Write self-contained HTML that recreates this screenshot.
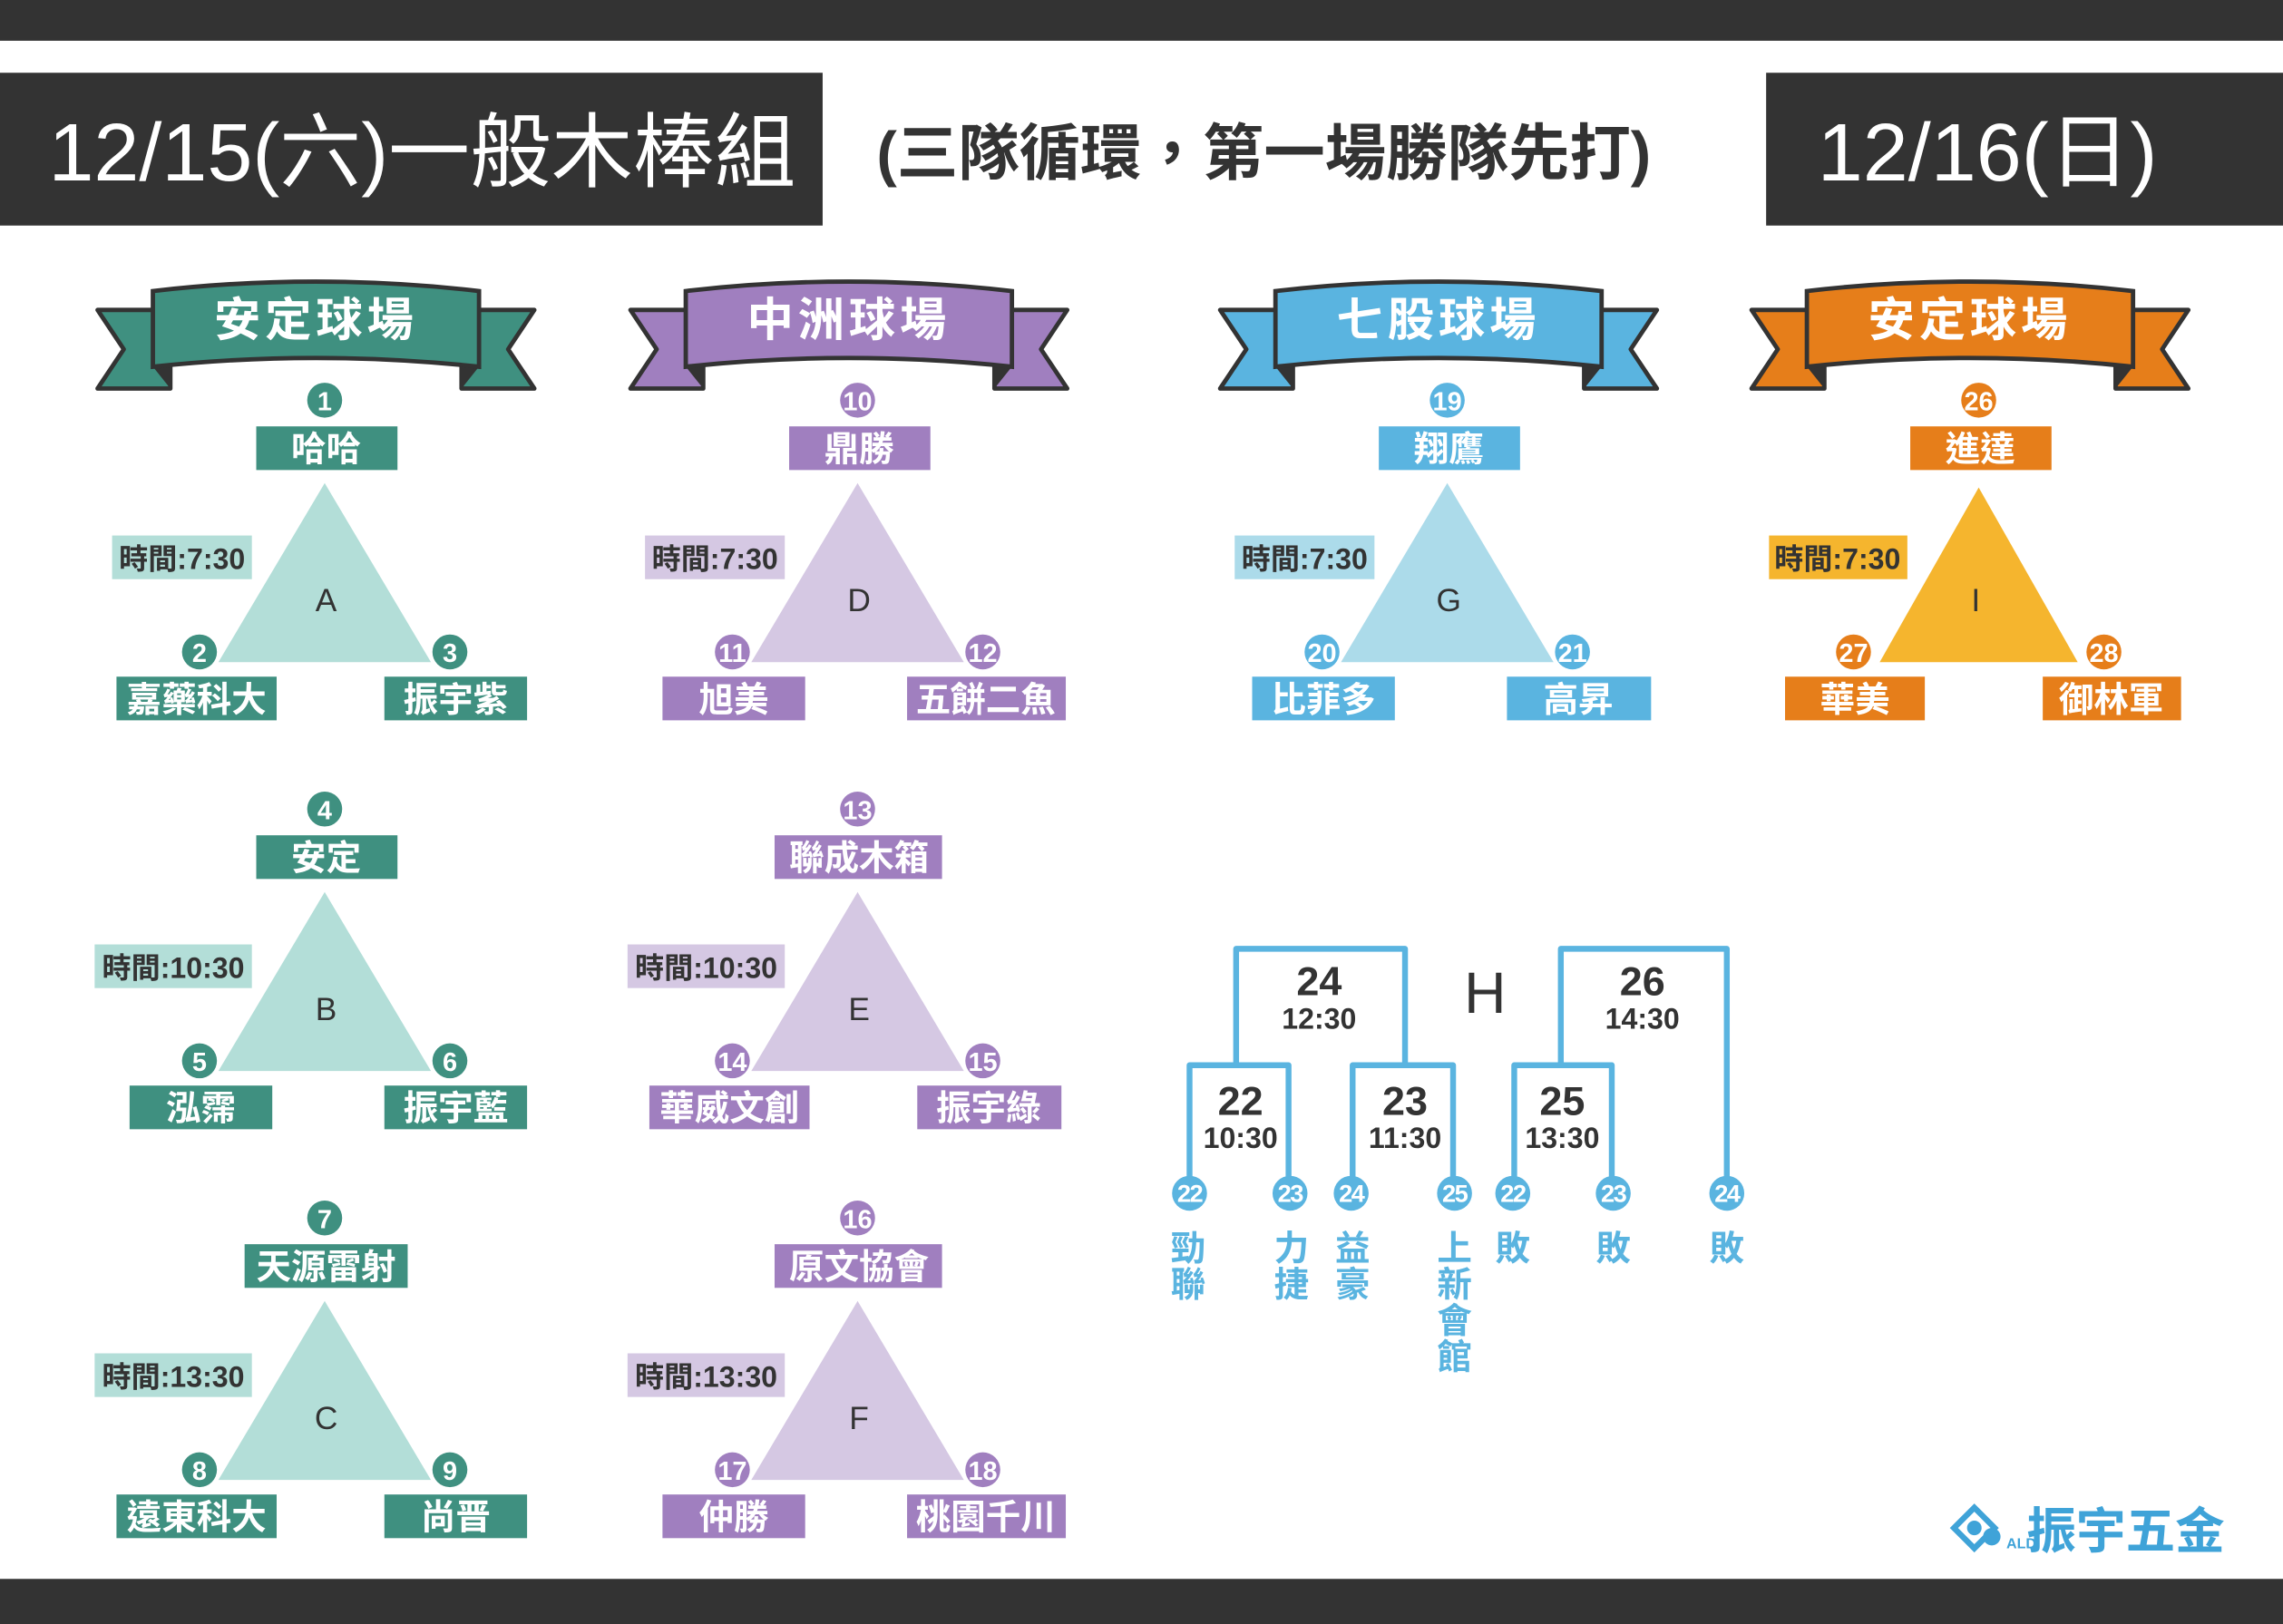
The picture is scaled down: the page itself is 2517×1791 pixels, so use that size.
<!DOCTYPE html>
<html><head><meta charset="utf-8"><style>
html,body{margin:0;padding:0;background:#fff}
svg{display:block}
text{font-family:"Liberation Sans","Noto Sans CJK TC","WenQuanYi Zen Hei",sans-serif}
.w{fill:#fff;font-weight:bold}
.d{fill:#333}
.t{fill:#333;font-weight:bold}
.n{fill:#fff;font-weight:normal}
</style></head><body>
<svg width="2517" height="1791" viewBox="0 0 1568 1116" preserveAspectRatio="none" xmlns="http://www.w3.org/2000/svg">
<defs>
<g id="rib">
 <polygon points="-150,18 -100,18 -100,72 -150,72 -132,45" stroke="#333" stroke-width="3" stroke-linejoin="round"/>
 <polygon points="150,18 100,18 100,72 150,72 132,45" stroke="#333" stroke-width="3" stroke-linejoin="round"/>
 <polygon points="-112,57 -100,72 -100,57" fill="#333"/>
 <polygon points="112,57 100,72 100,57" fill="#333"/>
 <path d="M-112,5 Q0,-8 112,5 L112,57 Q0,45 -112,57 Z" stroke="#333" stroke-width="3"/>
</g>
</defs>
<rect x="0" y="0" width="1568" height="28" fill="#333"/>
<rect x="0" y="1085" width="1568" height="31" fill="#333"/>
<rect x="0" y="50" width="565" height="105" fill="#333"/>
<text x="290" y="124" class="n" font-size="56" text-anchor="middle">12/15(六)一般木棒組</text>
<text x="868" y="120" class="d" font-size="42" text-anchor="middle" font-weight="bold">(三隊循環，第一場勝隊先打)</text>
<rect x="1213" y="50" width="355" height="105" fill="#333"/>
<text x="1365" y="124" class="n" font-size="56" text-anchor="middle">12/16(日)</text>

<g transform="translate(217,195)" fill="#3f9080"><use href="#rib"/><text x="0" y="36" class="w" font-size="32" text-anchor="middle" letter-spacing="3">安定球場</text></g>
<g transform="translate(583,195)" fill="#a07fbf"><use href="#rib"/><text x="0" y="36" class="w" font-size="32" text-anchor="middle" letter-spacing="3">中洲球場</text></g>
<g transform="translate(988,195)" fill="#5ab4e0"><use href="#rib"/><text x="0" y="36" class="w" font-size="32" text-anchor="middle" letter-spacing="3">七股球場</text></g>
<g transform="translate(1353,195)" fill="#e67e1a"><use href="#rib"/><text x="0" y="36" class="w" font-size="32" text-anchor="middle" letter-spacing="3">安定球場</text></g>

<g transform="translate(223,275)">
<polygon points="0,57 -73,180 73,180" fill="#b3ded8"/>
<text x="1" y="145" class="d" font-size="22" text-anchor="middle">A</text>
<rect x="-146" y="93" width="96" height="30" fill="#b3ded8"/><text x="-98" y="116" class="t" font-size="20" text-anchor="middle">時間:7:30</text>
<g fill="#3f9080">
<circle cx="0" cy="0" r="12"/><circle cx="-86" cy="173" r="12"/><circle cx="86" cy="173" r="12"/>
<rect x="-47" y="18" width="97" height="30"/><rect x="-143" y="190" width="110" height="30"/><rect x="41" y="190" width="98" height="30"/></g>
<text x="0" y="7" class="w" font-size="18" text-anchor="middle">1</text><text x="-86" y="180" class="w" font-size="18" text-anchor="middle">2</text><text x="86" y="180" class="w" font-size="18" text-anchor="middle">3</text>
<text x="1" y="42" class="w" font-size="24" text-anchor="middle">哈哈</text>
<text x="-88" y="214" class="w" font-size="24" text-anchor="middle">嘉藥科大</text>
<text x="90" y="214" class="w" font-size="24" text-anchor="middle">振宇紫</text>
</g>
<g transform="translate(223,556)">
<polygon points="0,57 -73,180 73,180" fill="#b3ded8"/>
<text x="1" y="145" class="d" font-size="22" text-anchor="middle">B</text>
<rect x="-158" y="93" width="108" height="30" fill="#b3ded8"/><text x="-104" y="116" class="t" font-size="20" text-anchor="middle">時間:10:30</text>
<g fill="#3f9080">
<circle cx="0" cy="0" r="12"/><circle cx="-86" cy="173" r="12"/><circle cx="86" cy="173" r="12"/>
<rect x="-47" y="18" width="97" height="30"/><rect x="-134" y="190" width="98" height="30"/><rect x="41" y="190" width="98" height="30"/></g>
<text x="0" y="7" class="w" font-size="18" text-anchor="middle">4</text><text x="-86" y="180" class="w" font-size="18" text-anchor="middle">5</text><text x="86" y="180" class="w" font-size="18" text-anchor="middle">6</text>
<text x="1" y="42" class="w" font-size="24" text-anchor="middle">安定</text>
<text x="-85" y="214" class="w" font-size="24" text-anchor="middle">泓霈</text>
<text x="90" y="214" class="w" font-size="24" text-anchor="middle">振宇藍</text>
</g>
<g transform="translate(223,837)">
<polygon points="0,57 -73,180 73,180" fill="#b3ded8"/>
<text x="1" y="145" class="d" font-size="22" text-anchor="middle">C</text>
<rect x="-158" y="93" width="108" height="30" fill="#b3ded8"/><text x="-104" y="116" class="t" font-size="20" text-anchor="middle">時間:13:30</text>
<g fill="#3f9080">
<circle cx="0" cy="0" r="12"/><circle cx="-86" cy="173" r="12"/><circle cx="86" cy="173" r="12"/>
<rect x="-55" y="18" width="112" height="30"/><rect x="-143" y="190" width="110" height="30"/><rect x="41" y="190" width="98" height="30"/></g>
<text x="0" y="7" class="w" font-size="18" text-anchor="middle">7</text><text x="-86" y="180" class="w" font-size="18" text-anchor="middle">8</text><text x="86" y="180" class="w" font-size="18" text-anchor="middle">9</text>
<text x="1" y="42" class="w" font-size="24" text-anchor="middle">天源雷射</text>
<text x="-88" y="214" class="w" font-size="24" text-anchor="middle">遠東科大</text>
<text x="90" y="214" class="w" font-size="24" text-anchor="middle">尚晋</text>
</g>
<g transform="translate(589,275)">
<polygon points="0,57 -73,180 73,180" fill="#d5c8e3"/>
<text x="1" y="145" class="d" font-size="22" text-anchor="middle">D</text>
<rect x="-146" y="93" width="96" height="30" fill="#d5c8e3"/><text x="-98" y="116" class="t" font-size="20" text-anchor="middle">時間:7:30</text>
<g fill="#a07fbf">
<circle cx="0" cy="0" r="12"/><circle cx="-86" cy="173" r="12"/><circle cx="86" cy="173" r="12"/>
<rect x="-47" y="18" width="97" height="30"/><rect x="-134" y="190" width="98" height="30"/><rect x="34" y="190" width="109" height="30"/></g>
<text x="0" y="7" class="w" font-size="18" text-anchor="middle">10</text><text x="-86" y="180" class="w" font-size="18" text-anchor="middle">11</text><text x="86" y="180" class="w" font-size="18" text-anchor="middle">12</text>
<text x="1" y="42" class="w" font-size="24" text-anchor="middle">鼎勝</text>
<text x="-85" y="214" class="w" font-size="24" text-anchor="middle">旭美</text>
<text x="88" y="214" class="w" font-size="24" text-anchor="middle">五餅二魚</text>
</g>
<g transform="translate(589,556)">
<polygon points="0,57 -73,180 73,180" fill="#d5c8e3"/>
<text x="1" y="145" class="d" font-size="22" text-anchor="middle">E</text>
<rect x="-158" y="93" width="108" height="30" fill="#d5c8e3"/><text x="-104" y="116" class="t" font-size="20" text-anchor="middle">時間:10:30</text>
<g fill="#a07fbf">
<circle cx="0" cy="0" r="12"/><circle cx="-86" cy="173" r="12"/><circle cx="86" cy="173" r="12"/>
<rect x="-57" y="18" width="115" height="30"/><rect x="-143" y="190" width="110" height="30"/><rect x="41" y="190" width="99" height="30"/></g>
<text x="0" y="7" class="w" font-size="18" text-anchor="middle">13</text><text x="-86" y="180" class="w" font-size="18" text-anchor="middle">14</text><text x="86" y="180" class="w" font-size="18" text-anchor="middle">15</text>
<text x="1" y="42" class="w" font-size="24" text-anchor="middle">聯成木箱</text>
<text x="-88" y="214" class="w" font-size="24" text-anchor="middle">華威文創</text>
<text x="90" y="214" class="w" font-size="24" text-anchor="middle">振宇綠</text>
</g>
<g transform="translate(589,837)">
<polygon points="0,57 -73,180 73,180" fill="#d5c8e3"/>
<text x="1" y="145" class="d" font-size="22" text-anchor="middle">F</text>
<rect x="-158" y="93" width="108" height="30" fill="#d5c8e3"/><text x="-104" y="116" class="t" font-size="20" text-anchor="middle">時間:13:30</text>
<g fill="#a07fbf">
<circle cx="0" cy="0" r="12"/><circle cx="-86" cy="173" r="12"/><circle cx="86" cy="173" r="12"/>
<rect x="-57" y="18" width="115" height="30"/><rect x="-134" y="190" width="98" height="30"/><rect x="34" y="190" width="109" height="30"/></g>
<text x="0" y="7" class="w" font-size="18" text-anchor="middle">16</text><text x="-86" y="180" class="w" font-size="18" text-anchor="middle">17</text><text x="86" y="180" class="w" font-size="18" text-anchor="middle">18</text>
<text x="1" y="42" class="w" font-size="24" text-anchor="middle">原文協會</text>
<text x="-85" y="214" class="w" font-size="24" text-anchor="middle">仲勝</text>
<text x="88" y="214" class="w" font-size="24" text-anchor="middle">桃園千川</text>
</g>
<g transform="translate(994,275)">
<polygon points="0,57 -73,180 73,180" fill="#acdbea"/>
<text x="1" y="145" class="d" font-size="22" text-anchor="middle">G</text>
<rect x="-146" y="93" width="96" height="30" fill="#acdbea"/><text x="-98" y="116" class="t" font-size="20" text-anchor="middle">時間:7:30</text>
<g fill="#5ab4e0">
<circle cx="0" cy="0" r="12"/><circle cx="-86" cy="173" r="12"/><circle cx="86" cy="173" r="12"/>
<rect x="-47" y="18" width="97" height="30"/><rect x="-134" y="190" width="98" height="30"/><rect x="41" y="190" width="99" height="30"/></g>
<text x="0" y="7" class="w" font-size="18" text-anchor="middle">19</text><text x="-86" y="180" class="w" font-size="18" text-anchor="middle">20</text><text x="86" y="180" class="w" font-size="18" text-anchor="middle">21</text>
<text x="1" y="42" class="w" font-size="24" text-anchor="middle">翔鷹</text>
<text x="-85" y="214" class="w" font-size="24" text-anchor="middle">比菲多</text>
<text x="90" y="214" class="w" font-size="24" text-anchor="middle">高昇</text>
</g>
<g transform="translate(1359,275)">
<polygon points="0,60 -68,180 68,180" fill="#f5b52e"/>
<text x="-2" y="145" class="d" font-size="22" text-anchor="middle">I</text>
<rect x="-144" y="93" width="95" height="30" fill="#f5b52e"/><text x="-97" y="116" class="t" font-size="20" text-anchor="middle">時間:7:30</text>
<g fill="#e67e1a">
<circle cx="0" cy="0" r="12"/><circle cx="-86" cy="173" r="12"/><circle cx="86" cy="173" r="12"/>
<rect x="-47" y="18" width="97" height="30"/><rect x="-133" y="190" width="96" height="30"/><rect x="44" y="190" width="95" height="30"/></g>
<text x="0" y="7" class="w" font-size="18" text-anchor="middle">26</text><text x="-86" y="180" class="w" font-size="18" text-anchor="middle">27</text><text x="86" y="180" class="w" font-size="18" text-anchor="middle">28</text>
<text x="1" y="42" class="w" font-size="24" text-anchor="middle">進達</text>
<text x="-85" y="214" class="w" font-size="24" text-anchor="middle">華美</text>
<text x="91" y="214" class="w" font-size="24" text-anchor="middle">御林軍</text>
</g>

<g fill="none" stroke="#5ab4e0" stroke-width="4" stroke-linejoin="round">
<polyline points="849,730 849,652 965,652 965,730"/>
<polyline points="817,810 817,732 885,732 885,810"/>
<polyline points="929,810 929,732 998,732 998,810"/>
<polyline points="1072,732 1072,652 1186,652 1186,810"/>
<polyline points="1040,810 1040,732 1107,732 1107,810"/>
</g>
<g class="t" text-anchor="middle">
<text x="906" y="684" font-size="28">24</text><text x="906" y="707" font-size="20">12:30</text>
<text x="1128" y="684" font-size="28">26</text><text x="1128" y="707" font-size="20">14:30</text>
<text x="852" y="766" font-size="28">22</text><text x="852" y="789" font-size="20">10:30</text>
<text x="965" y="766" font-size="28">23</text><text x="965" y="789" font-size="20">11:30</text>
<text x="1073" y="766" font-size="28">25</text><text x="1073" y="789" font-size="20">13:30</text>
</g>
<text x="1020" y="696" class="d" font-size="40" text-anchor="middle">H</text>
<g fill="#5ab4e0">
<circle cx="817" cy="820" r="12"/><circle cx="886" cy="820" r="12"/><circle cx="928" cy="820" r="12"/><circle cx="999" cy="820" r="12"/>
<circle cx="1039" cy="820" r="12"/><circle cx="1108" cy="820" r="12"/><circle cx="1186" cy="820" r="12"/>
</g>
<g class="w" font-size="17" text-anchor="middle" letter-spacing="-1">
<text x="817" y="826">22</text><text x="886" y="826">23</text><text x="928" y="826">24</text><text x="999" y="826">25</text>
<text x="1039" y="826">22</text><text x="1108" y="826">23</text><text x="1186" y="826">24</text>
</g>
<g fill="#5ab4e0" font-size="24" text-anchor="middle" font-weight="bold">
<text x="816" y="866">勁</text><text x="816" y="891">聯</text>
<text x="887" y="866">力</text><text x="887" y="891">捷</text>
<text x="929" y="866">益</text><text x="929" y="891">豪</text>
<text x="999" y="866">上</text><text x="999" y="891">新</text><text x="999" y="916">會</text><text x="999" y="941">館</text>
<text x="1039" y="866">敗</text><text x="1108" y="866">敗</text><text x="1186" y="866">敗</text>
</g>

<g fill="#3fa3d8">
<polygon points="1356,1036 1370,1050 1356,1064 1342,1050" fill="none" stroke="#3fa3d8" stroke-width="4"/>
<circle cx="1356" cy="1050" r="5"/>
<circle cx="1368" cy="1056" r="6"/>
<text x="1378" y="1064" font-size="10" font-weight="bold">ALD</text>
<text x="1392" y="1064" font-size="34" font-weight="bold">振宇五金</text>
</g>
</svg>
</body></html>
